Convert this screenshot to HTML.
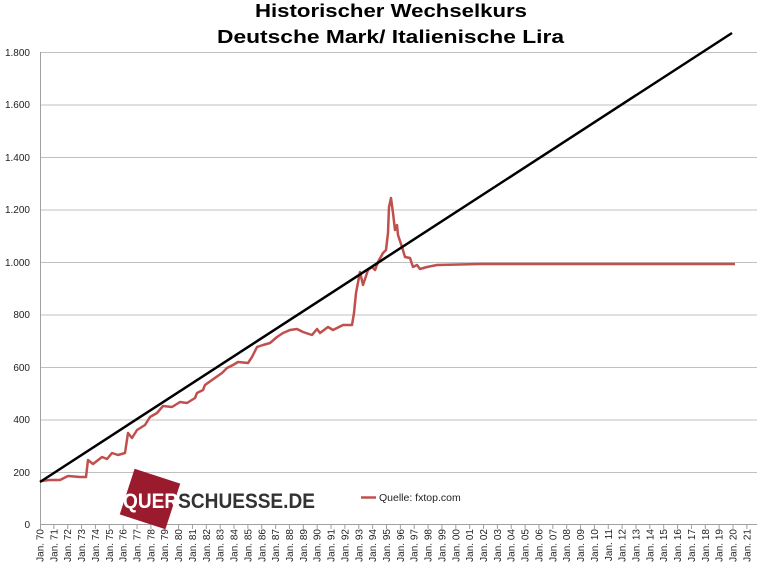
<!DOCTYPE html>
<html><head><meta charset="utf-8"><style>
html,body{margin:0;padding:0;background:#fff;}
svg{display:block;font-family:"Liberation Sans",Arial,sans-serif;}
</style></head><body>
<svg width="757" height="570" viewBox="0 0 757 570" xmlns="http://www.w3.org/2000/svg">
<rect width="757" height="570" fill="#fff"/>
<text x="391" y="17" font-size="18" font-weight="bold" text-anchor="middle" textLength="272" lengthAdjust="spacingAndGlyphs">Historischer Wechselkurs</text>
<text x="390.5" y="43" font-size="18" font-weight="bold" text-anchor="middle" textLength="347" lengthAdjust="spacingAndGlyphs">Deutsche Mark/ Italienische Lira</text>
<g stroke="#c0c0c0" stroke-width="1">
<line x1="40" y1="52.5" x2="757" y2="52.5"/>
<line x1="40" y1="105" x2="757" y2="105"/>
<line x1="40" y1="157.5" x2="757" y2="157.5"/>
<line x1="40" y1="210" x2="757" y2="210"/>
<line x1="40" y1="262.5" x2="757" y2="262.5"/>
<line x1="40" y1="315" x2="757" y2="315"/>
<line x1="40" y1="367.5" x2="757" y2="367.5"/>
<line x1="40" y1="420" x2="757" y2="420"/>
<line x1="40" y1="472.5" x2="757" y2="472.5"/>
</g>
<line x1="40.5" y1="52" x2="40.5" y2="525" stroke="#a0a0a0"/>
<line x1="40" y1="524.5" x2="757" y2="524.5" stroke="#a0a0a0"/>
<g font-size="10" fill="#222" text-anchor="end">
<text x="30" y="56">1.800</text><text x="30" y="108">1.600</text><text x="30" y="161">1.400</text>
<text x="30" y="213">1.200</text><text x="30" y="266">1.000</text><text x="30" y="318">800</text>
<text x="30" y="371">600</text><text x="30" y="423">400</text><text x="30" y="476">200</text><text x="30" y="528">0</text>
</g>
<path stroke="#a0a0a0" fill="none" d="M40.5 524v5M53.86 524v5M67.72 524v5M81.58 524v5M95.44 524v5M109.3 524v5M123.16 524v5M137.02 524v5M150.88 524v5M164.74 524v5M178.6 524v5M192.46 524v5M206.32 524v5M220.18 524v5M234.04 524v5M247.9 524v5M261.76 524v5M275.62 524v5M289.48 524v5M303.34 524v5M317.2 524v5M331.06 524v5M344.92 524v5M358.78 524v5M372.64 524v5M386.5 524v5M400.36 524v5M414.22 524v5M428.08 524v5M441.94 524v5M455.8 524v5M469.66 524v5M483.52 524v5M497.38 524v5M511.24 524v5M525.1 524v5M538.96 524v5M552.82 524v5M566.68 524v5M580.54 524v5M594.4 524v5M608.26 524v5M622.12 524v5M635.98 524v5M649.84 524v5M663.7 524v5M677.56 524v5M691.42 524v5M705.28 524v5M719.14 524v5M733 524v5M746.86 524v5"/>
<g font-size="10" fill="#222" text-anchor="end">
<text transform="translate(43.5,529) rotate(-90)">Jan. 70</text>
<text transform="translate(57.36,529) rotate(-90)">Jan. 71</text>
<text transform="translate(71.22,529) rotate(-90)">Jan. 72</text>
<text transform="translate(85.08,529) rotate(-90)">Jan. 73</text>
<text transform="translate(98.94,529) rotate(-90)">Jan. 74</text>
<text transform="translate(112.8,529) rotate(-90)">Jan. 75</text>
<text transform="translate(126.66,529) rotate(-90)">Jan. 76</text>
<text transform="translate(140.52,529) rotate(-90)">Jan. 77</text>
<text transform="translate(154.38,529) rotate(-90)">Jan. 78</text>
<text transform="translate(168.24,529) rotate(-90)">Jan. 79</text>
<text transform="translate(182.1,529) rotate(-90)">Jan. 80</text>
<text transform="translate(195.96,529) rotate(-90)">Jan. 81</text>
<text transform="translate(209.82,529) rotate(-90)">Jan. 82</text>
<text transform="translate(223.68,529) rotate(-90)">Jan. 83</text>
<text transform="translate(237.54,529) rotate(-90)">Jan. 84</text>
<text transform="translate(251.4,529) rotate(-90)">Jan. 85</text>
<text transform="translate(265.26,529) rotate(-90)">Jan. 86</text>
<text transform="translate(279.12,529) rotate(-90)">Jan. 87</text>
<text transform="translate(292.98,529) rotate(-90)">Jan. 88</text>
<text transform="translate(306.84,529) rotate(-90)">Jan. 89</text>
<text transform="translate(320.7,529) rotate(-90)">Jan. 90</text>
<text transform="translate(334.56,529) rotate(-90)">Jan. 91</text>
<text transform="translate(348.42,529) rotate(-90)">Jan. 92</text>
<text transform="translate(362.28,529) rotate(-90)">Jan. 93</text>
<text transform="translate(376.14,529) rotate(-90)">Jan. 94</text>
<text transform="translate(390,529) rotate(-90)">Jan. 95</text>
<text transform="translate(403.86,529) rotate(-90)">Jan. 96</text>
<text transform="translate(417.72,529) rotate(-90)">Jan. 97</text>
<text transform="translate(431.58,529) rotate(-90)">Jan. 98</text>
<text transform="translate(445.44,529) rotate(-90)">Jan. 99</text>
<text transform="translate(459.3,529) rotate(-90)">Jan. 00</text>
<text transform="translate(473.16,529) rotate(-90)">Jan. 01</text>
<text transform="translate(487.02,529) rotate(-90)">Jan. 02</text>
<text transform="translate(500.88,529) rotate(-90)">Jan. 03</text>
<text transform="translate(514.74,529) rotate(-90)">Jan. 04</text>
<text transform="translate(528.6,529) rotate(-90)">Jan. 05</text>
<text transform="translate(542.46,529) rotate(-90)">Jan. 06</text>
<text transform="translate(556.32,529) rotate(-90)">Jan. 07</text>
<text transform="translate(570.18,529) rotate(-90)">Jan. 08</text>
<text transform="translate(584.04,529) rotate(-90)">Jan. 09</text>
<text transform="translate(597.9,529) rotate(-90)">Jan. 10</text>
<text transform="translate(611.76,529) rotate(-90)">Jan. 11</text>
<text transform="translate(625.62,529) rotate(-90)">Jan. 12</text>
<text transform="translate(639.48,529) rotate(-90)">Jan. 13</text>
<text transform="translate(653.34,529) rotate(-90)">Jan. 14</text>
<text transform="translate(667.2,529) rotate(-90)">Jan. 15</text>
<text transform="translate(681.06,529) rotate(-90)">Jan. 16</text>
<text transform="translate(694.92,529) rotate(-90)">Jan. 17</text>
<text transform="translate(708.78,529) rotate(-90)">Jan. 18</text>
<text transform="translate(722.64,529) rotate(-90)">Jan. 19</text>
<text transform="translate(736.5,529) rotate(-90)">Jan. 20</text>
<text transform="translate(750.36,529) rotate(-90)">Jan. 21</text>
</g>
<g>
<rect x="126" y="475" width="48" height="48" fill="#9b1b2e" transform="rotate(18 150 499)"/>
<text x="123" y="508" font-size="21" font-weight="bold" fill="#333" textLength="192" lengthAdjust="spacingAndGlyphs"><tspan fill="#fff">QUER</tspan>SCHUESSE.DE</text>
</g>
<line x1="361" y1="497.5" x2="376" y2="497.5" stroke="#c0504d" stroke-width="2.5"/>
<text x="379" y="501" font-size="10.5" fill="#222">Quelle: fxtop.com</text>
<polyline fill="none" stroke="#c0504d" stroke-width="2.5" stroke-linejoin="round" points="40,481 50,480 60,480 68,476 80,477 86,477 88,460 93,464 102,457 107,459 112,453 118,455 125,453 128,433 132,438 137,430 145,425 150,417 157,413 163,406 172,407 180,402 187,403 195,398 197,393 203,390 205,385 212,380 222,373 227,368 233,365 238,362 248,363 252,357 257,347 263,345 270,343 277,337 283,333 290,330 297,329 303,332 312,335 317,329 320,333 328,327 333,330 343,325 352,325 354,313 356,293 360,272 363,285 368,270 372,267 375,270 378,262 383,253 386,250 388,233 389,207 391,198 393,213 395,230 397,225 398,235 402,247 405,257 410,258 413,267 417,265 420,269 427,267 437,265 480,264 735,264"/>
<line x1="40" y1="482" x2="732" y2="33" stroke="#000" stroke-width="2.5"/>
</svg>
</body></html>
